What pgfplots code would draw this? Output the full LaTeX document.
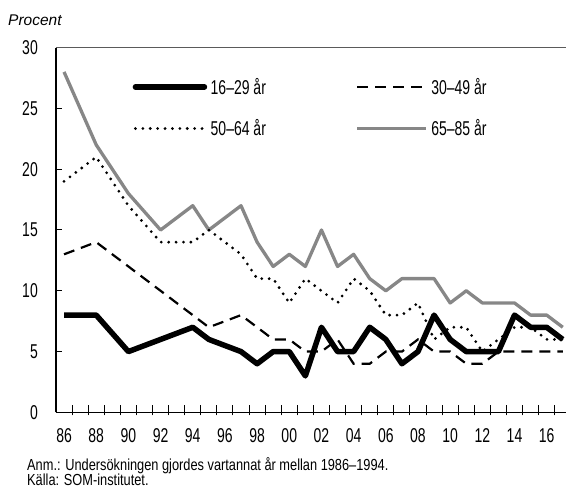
\documentclass[border=0pt]{standalone}
\usepackage{fontspec}
\setmainfont{Liberation Sans}[FakeStretch=0.7]
\newfontfamily\procfont{Liberation Sans}
\newfontfamily\notefont{Liberation Sans}[FakeStretch=0.8]
\usepackage{pgfplots}
\pgfplotsset{compat=1.18}
\definecolor{linegray}{RGB}{135,135,135}
\definecolor{framegray}{RGB}{90,90,90}

\begin{document}
\begin{tikzpicture}[x=1pt,y=1pt]
\useasboundingbox (0,0) rectangle (566,497);
\begin{axis}[
    at={(56pt,84.6pt)}, anchor=south west,
    scale only axis, width=510pt, height=364.8pt,
    xmin=1985.5, xmax=2017.2, ymin=0, ymax=30,
    axis x line*=bottom, axis y line*=left,
    axis line style={black, line width=1.2pt},
    xtick={1986,1988,...,2016},
    xticklabels={86,88,90,92,94,96,98,00,02,04,06,08,10,12,14,16},
    minor xtick={1986.5,1987.5,...,2016.5},
    ytick={0,5,...,30},
    yticklabels={0,5,10,15,20,25,30},
    tick align=inside,
    major tick length=6.5pt,
    minor tick length=10pt,
    major x tick style={draw=none},
    minor x tick style={black, line width=1pt, yshift=-3pt},
    major y tick style={black, line width=1pt},
    xticklabel style={anchor=north, inner sep=0pt, yshift=-16pt},
    yticklabel style={anchor=east, inner sep=0pt, xshift=-18pt},
    tick label style={font=\fontsize{20}{24}\selectfont},
    legend columns=2,
    legend cell align=left,
    legend style={draw=none, fill=none, at={(rel axis cs:0.150,0.917)}, anchor=north west,
        font=\fontsize{20}{24}\selectfont, inner sep=0pt, row sep=24pt,
        nodes={inner xsep=3.5pt, inner ysep=0pt},
        /tikz/every even column/.append style={column sep=86pt}},
    legend image code/.code={\draw[#1] (0pt,0pt) -- (69pt,0pt);},
]
\draw[framegray, line width=0.9pt] (rel axis cs:0,1) -- (rel axis cs:1,1);

\addlegendimage{black, line width=5.5pt, line cap=round}
\addlegendentry{16–29 år}
\addlegendimage{black, line width=2.2pt, dash pattern=on 11pt off 7pt}
\addlegendentry{30–49 år}
\addlegendimage{black, line width=3.1pt, line cap=round, dash pattern=on 0pt off 7.4pt}
\addlegendentry{50–64 år}
\addlegendimage{linegray, line width=3.3pt}
\addlegendentry{65–85 år}

% 65-85
\addplot[forget plot, linegray, line width=3.3pt, line join=round] coordinates {
(1986,28) (1988,22) (1990,18) (1992,15) (1994,17) (1995,15) (1997,17) (1998,14)
(1999,12) (2000,13) (2001,12) (2002,15) (2003,12) (2004,13) (2005,11) (2006,10)
(2007,11) (2008,11) (2009,11) (2010,9) (2011,10) (2012,9) (2013,9) (2014,9)
(2015,8) (2016,8) (2017,7)};
% 50-64
\addplot[forget plot, black, line width=3.1pt, line cap=round, dash pattern=on 0pt off 7.4pt] coordinates {
(1986,19) (1988,21) (1990,17) (1992,14) (1994,14) (1995,15) (1997,13) (1998,11)
(1999,11) (2000,9) (2001,11) (2002,10) (2003,9) (2004,11) (2005,10) (2006,8)
(2007,8) (2008,9) (2009,6) (2010,7) (2011,7) (2012,5) (2013,6) (2014,7)
(2015,7) (2016,6) (2017,6)};
% 30-49
\addplot[forget plot, black, line width=2.2pt, dash pattern=on 11pt off 7pt] coordinates {
(1986,13) (1988,14) (1990,12) (1992,10) (1994,8) (1995,7) (1997,8) (1998,7)
(1999,6) (2000,6) (2001,5) (2002,5) (2003,6) (2004,4) (2005,4) (2006,5)
(2007,5) (2008,6) (2009,5) (2010,5) (2011,4) (2012,4) (2013,5) (2014,5)
(2015,5) (2016,5) (2017,5)};
% 16-29
\addplot[forget plot, black, line width=5.5pt, line join=round] coordinates {
(1986,8) (1988,8) (1990,5) (1992,6) (1994,7) (1995,6) (1997,5) (1998,4)
(1999,5) (2000,5) (2001,3) (2002,7) (2003,5) (2004,5) (2005,7) (2006,6)
(2007,4) (2008,5) (2009,8) (2010,6) (2011,5) (2012,5) (2013,5) (2014,8)
(2015,7) (2016,7) (2017,6)};
\end{axis}
\node[anchor=base west, inner sep=0pt, font=\procfont\itshape\fontsize{15.5}{18}\selectfont] at (8,471) {Procent};
\node[anchor=base west, inner sep=0pt, font=\notefont\fontsize{16}{18}\selectfont] at (27,26) {Anm.: Undersökningen gjordes vartannat år mellan 1986–1994.};
\node[anchor=base west, inner sep=0pt, font=\notefont\fontsize{16}{18}\selectfont] at (27,11) {Källa: SOM-institutet.};
\end{tikzpicture}
\end{document}
